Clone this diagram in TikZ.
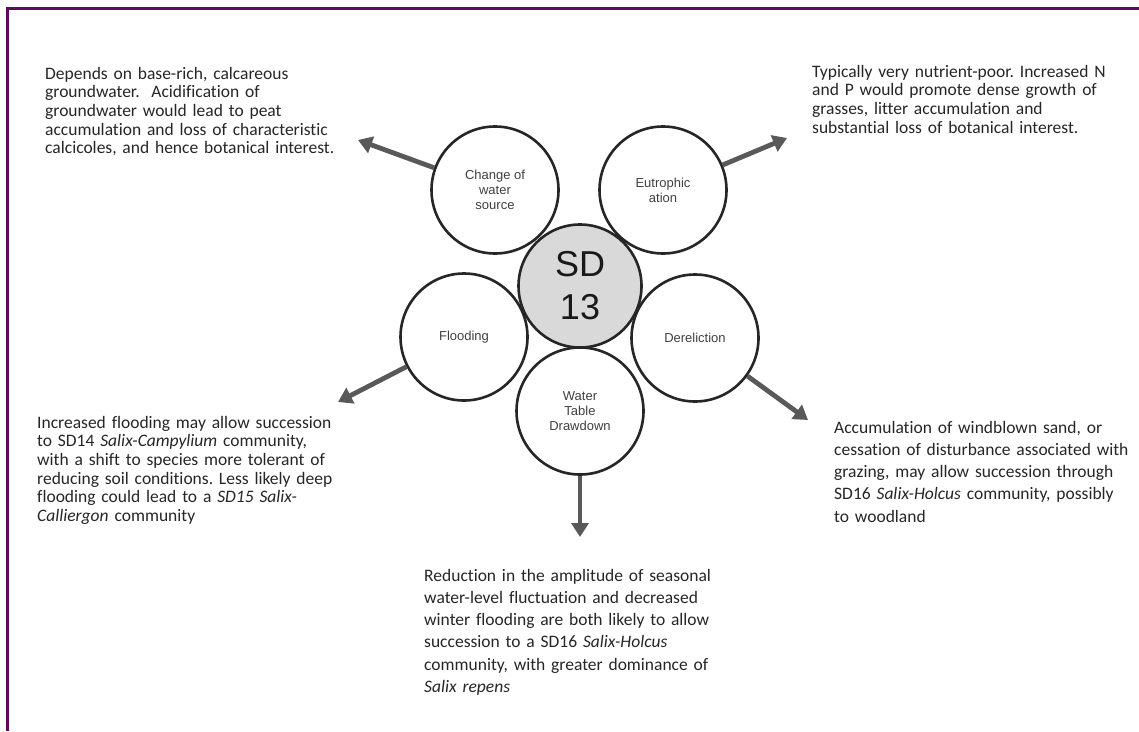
\documentclass[tikz,border=0pt]{standalone}
\usepackage{fontspec}
\setmainfont{Carlito}[Ligatures=CommonOff]
\newfontfamily\arialf{Liberation Sans}
\usetikzlibrary{arrows.meta}
\frenchspacing
\definecolor{framepurple}{HTML}{5E0B5E}
\definecolor{ringcol}{HTML}{262626}
\definecolor{arrcol}{HTML}{595959}
\definecolor{labcol}{HTML}{404040}
\definecolor{txtcol}{HTML}{262626}
\definecolor{hubfill}{HTML}{D9D9D9}
\tikzset{
  petal/.style={circle, draw=ringcol, line width=2.6pt, fill=white, minimum size=127pt, inner sep=0pt,
    text=labcol, align=center, font=\arialf\fontsize{13}{15}\selectfont},
  hub/.style={circle, draw=ringcol, line width=2.6pt, fill=hubfill, minimum size=123pt, inner sep=0pt,
    text=black!90, align=center, font=\arialf\fontsize{36}{43}\selectfont},
  arr/.style={draw=arrcol, line width=4.8pt, -{Triangle[width=17pt,length=14pt]}},
  desc/.style={anchor=base west, inner sep=0pt, align=left, text width=340pt, text=txtcol,
    font=\fontsize{17.5}{18.7}\selectfont},
  descwide/.style={desc, font=\fontsize{17.5}{22.3}\selectfont}
}
\begin{document}
\begin{tikzpicture}[x=1pt,y=-1pt]
\useasboundingbox (0,0) rectangle (1139,731);
\fill[white] (0,0) rectangle (1139,731);
% frame
\coordinate (fTR) at (1139,8);
\coordinate (fTL) at (7,8);
\coordinate (fBL) at (7,731);
\draw[framepurple, line width=3pt] (fTR) -- (fTL) -- (fBL);

% hub and petals
\node[hub] (hub) at (580,286) {SD\\13};
\node[petal] (change) at (495,190) {Change of\\water\\source};
\node[petal] (eutro) at (663,190) {Eutrophic\\ation};
\node[petal] (flood) at (464,337) {Flooding};
\node[petal] (derel) at (695,338) {Dereliction};
\node[petal] (water) at (580,411) {Water\\Table\\Drawdown};

% arrow tips
\coordinate (tA) at (358,140);
\coordinate (tB) at (787,138);
\coordinate (tC) at (338,402);
\coordinate (tD) at (808,420);
\coordinate (tE) at (580,537);
\draw[arr] (change) -- (tA);
\draw[arr] (eutro) -- (tB);
\draw[arr] (flood) -- (tC);
\draw[arr] (derel) -- (tD);
\draw[arr] (water) -- (tE);

% descriptions
\node[desc] (dA) at (45,79) {Depends on base-rich, calcareous\\groundwater.\ \ Acidification of\\groundwater would lead to peat\\accumulation and loss of characteristic\\calcicoles, and hence botanical interest.};
\node[desc] (dB) at (812,77) {Typically very nutrient-poor. Increased N\\and P would promote dense growth of\\grasses, litter accumulation and\\substantial loss of botanical interest.};
\node[desc] (dC) at (37,428) {Increased flooding may allow succession\\to SD14 \textit{Salix-Campylium} community,\\with a shift to species more tolerant of\\reducing soil conditions. Less likely deep\\flooding could lead to a \textit{SD15 Salix-}\\\textit{Calliergon} community};
\node[descwide] (dD) at (834,433) {Accumulation of windblown sand, or\\cessation of disturbance associated with\\grazing, may allow succession through\\SD16 \textit{Salix-Holcus} community,\ possibly\\to woodland};
\node[descwide] (dE) at (424,581) {Reduction in the amplitude of seasonal\\water-level fluctuation and decreased\\winter flooding are both likely to allow\\succession to a SD16 \textit{Salix-Holcus}\\community, with greater dominance of\\\textit{Salix repens}};
\end{tikzpicture}
\end{document}
